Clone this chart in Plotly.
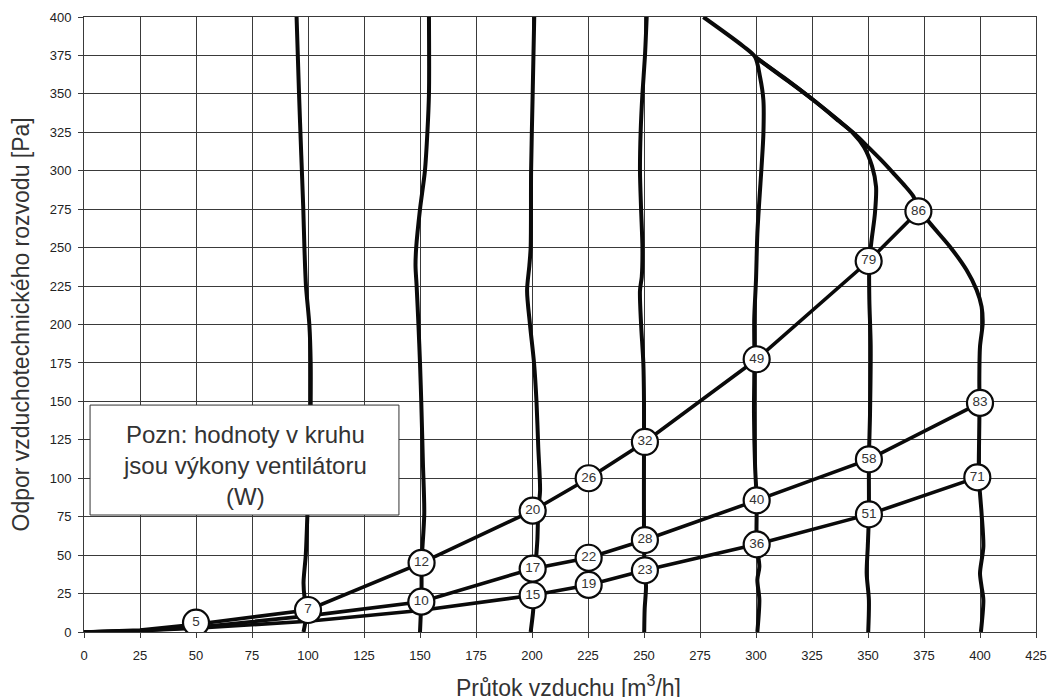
import plotly.graph_objects as go

# ---- fan speed curves (flow x, pressure y) ----
q100_x = [98.0, 99.0, 99.5, 98.5, 98.0, 99.0, 99.7, 100.3, 101.0, 101.2, 101.2, 100.6, 99.1, 98.4, 97.9, 97.0, 96.0, 94.9]
q100_y = [0, 8, 14, 22, 32, 50, 75, 100, 125, 150, 175, 200, 225, 250, 275, 310, 350, 400]

q150_x = [150.0, 150.3, 150.6, 150.7, 150.7, 151.9, 151.3, 150.6, 150.0, 149.3, 148.5, 148.0, 148.3, 150.0, 152.2, 153.3, 154.0, 154.0]
q150_y = [0, 10, 20, 32, 45, 77, 110, 148, 175, 200, 225, 238, 250, 275, 300, 325, 350, 400]

q200_x = [199.4, 200.4, 201.0, 201.5, 202.4, 202.8, 203.6, 202.8, 202.0, 200.9, 199.1, 197.8, 198.8, 199.4, 199.6, 200.3, 201.0]
q200_y = [0, 12, 24, 41, 60, 79, 92, 120, 150, 175, 200, 222, 238, 250, 300, 350, 400]

q250_x = [250.1, 250.3, 250.9, 250.3, 250.0, 250.0, 250.0, 249.7, 248.7, 248.2, 249.0, 249.3, 248.7, 248.2, 248.5, 249.3, 250.4, 251.2]
q250_y = [0, 15, 29.5, 40, 60, 124, 150, 175, 200, 222, 231, 250, 275, 300, 325, 350, 374, 400]

q300_x = [300.6, 301.5, 300.6, 301.5, 300.3, 300.3, 299.6, 299.1, 299.3, 299.2, 300.0, 300.6, 301.5, 302.5, 303.3, 303.3, 301.8, 299.6, 294.3, 276.5]
q300_y = [0, 21, 34, 42.5, 57, 86, 107.5, 142, 177, 203, 229, 259, 281, 303, 324, 346, 361, 374, 381, 400]

q350_x = [299.6, 312.0, 325.6, 337.0, 343.4, 348.2, 351.8, 353.6, 353.1, 351.6, 350.6, 350.6, 351.2, 350.9, 350.4, 350.4, 349.9, 349.4, 350.4, 350.1]
q350_y = [374, 360.8, 346, 332.3, 324.4, 315.5, 303.0, 289.6, 272.3, 254.9, 241, 216, 186, 142, 112, 77, 55.5, 38.2, 20.8, 0]

qmax_x = [299.6, 312.5, 326.0, 337.5, 344.0, 350.0, 355.5, 361.3, 366.0, 370.2, 372.5, 377.7, 386.6, 394.0, 398.5, 400.7, 401.2, 400.0, 399.7, 399.8, 399.6, 399.5, 400.7, 401.5, 400.0, 400.7, 401.5, 400.4]
qmax_y = [374, 360.5, 345.5, 332, 324, 315.5, 307.5, 298.5, 291, 283.5, 276, 265.8, 250.6, 235.4, 222.4, 211.6, 200.8, 185.6, 163.9, 149, 125, 101, 77.2, 55.5, 38.2, 29.5, 20.8, 0]

# ---- duct system curves ----
sys_hi_x = [0, 25, 50, 100, 150.7, 200.3, 225.3, 250.4, 300.3, 350.3, 372.5]
sys_hi_y = [0, 1.2, 5.0, 14.3, 45.0, 78.9, 100.0, 123.6, 177.4, 241.3, 273.6]
sys_mid_x = [0, 25, 50, 100, 150.6, 200.3, 225.3, 250.4, 300.3, 350.4, 400.0]
sys_mid_y = [0, 1.0, 3.0, 10.5, 19.7, 41.2, 48.3, 59.8, 85.6, 112.3, 149.0]
sys_lo_x = [0, 25, 50, 100, 150.0, 200.3, 225.3, 250.4, 300.3, 350.4, 398.8]
sys_lo_y = [0, 0.8, 2.5, 7.0, 14.0, 23.9, 30.6, 40.1, 57.0, 76.5, 100.6]

# ---- fan power labels (W) ----
pw_labels = ["5", "7", "12", "10", "20", "17", "15", "26", "22", "19", "32", "28", "23",
             "49", "40", "36", "79", "58", "51", "86", "83", "71"]
pw_x = [50, 100, 150.7, 150.6, 200.3, 200.3, 200.3, 225.3, 225.3, 225.3, 250.4, 250.4, 250.4,
        300.3, 300.3, 300.3, 350.3, 350.4, 350.4, 372.5, 400.0, 398.8]
pw_y = [6.1, 14.3, 45.0, 19.7, 78.9, 41.2, 23.9, 100.0, 48.3, 30.6, 123.6, 59.8, 40.1,
        177.4, 85.6, 57.0, 241.3, 112.3, 76.5, 273.6, 149.0, 100.6]

x_ticks = list(range(0, 426, 25))
y_ticks = list(range(0, 401, 25))

note_text = "Pozn: hodnoty v kruhu<br>jsou výkony ventilátoru<br>(W)"
x_title = "Průtok vzduchu [m<sup>3</sup>/h]"
y_title = "Odpor vzduchotechnického rozvodu [Pa]"

FONT = "Liberation Sans, Arial, sans-serif"
GRID = "#3a3a3a"

fig = go.Figure()

for xs, ys in [(q100_x, q100_y), (q150_x, q150_y), (q200_x, q200_y), (q250_x, q250_y),
               (q300_x, q300_y), (q350_x, q350_y), (qmax_x, qmax_y)]:
    fig.add_trace(go.Scatter(x=xs, y=ys, mode="lines",
                             line=dict(color="#0a0a0a", width=4, shape="spline", smoothing=0.8),
                             hoverinfo="skip", showlegend=False))

for xs, ys in [(sys_hi_x, sys_hi_y), (sys_mid_x, sys_mid_y), (sys_lo_x, sys_lo_y)]:
    fig.add_trace(go.Scatter(x=xs, y=ys, mode="lines",
                             line=dict(color="#0a0a0a", width=3.6),
                             hoverinfo="skip", showlegend=False))

fig.add_trace(go.Scatter(x=pw_x, y=pw_y, mode="markers+text", text=pw_labels,
                         textposition="middle center",
                         textfont=dict(family=FONT, size=13.5, color="#333333"),
                         marker=dict(size=26, color="white", line=dict(color="#0a0a0a", width=2.2)),
                         hoverinfo="skip", showlegend=False))

fig.add_shape(type="rect", xref="x", yref="y", x0=2.7, x1=140.6, y0=76.1, y1=147.6,
              line=dict(color="#333333", width=1), fillcolor="white", layer="above")

fig.add_annotation(x=71.65, y=108.6, xref="x", yref="y", text=note_text, showarrow=False,
                   font=dict(family=FONT, size=24, color="#333333"), align="center")

fig.add_annotation(x=(568 - 84) / 952, y=-(669 - 632) / 615, xref="paper", yref="paper",
                   text=x_title, showarrow=False, xanchor="center", yanchor="top",
                   font=dict(family=FONT, size=23, color="#333333"))

fig.add_annotation(x=(20 - 84) / 952, y=0.5, xref="paper", yref="paper",
                   text=y_title, showarrow=False, textangle=-90, xanchor="center", yanchor="middle",
                   font=dict(family=FONT, size=23, color="#333333"))

fig.update_layout(
    width=1050, height=697,
    margin=dict(l=84, r=14, t=17, b=65),
    paper_bgcolor="white", plot_bgcolor="white",
    showlegend=False,
    xaxis=dict(range=[0, 425], tickvals=x_ticks, ticktext=[str(v) for v in x_ticks],
               showgrid=True, gridcolor=GRID, gridwidth=1, zeroline=False,
               ticks="outside", ticklen=5, tickcolor=GRID, tickwidth=1,
               showline=True, mirror=True, linecolor=GRID, linewidth=1, automargin=False,
               tickfont=dict(family=FONT, size=13, color="#222222"), ticklabelstandoff=6),
    yaxis=dict(range=[0, 400], tickvals=y_ticks, ticktext=[str(v) for v in y_ticks],
               showgrid=True, gridcolor=GRID, gridwidth=1, zeroline=False,
               ticks="outside", ticklen=5, tickcolor=GRID, tickwidth=1,
               showline=True, mirror=True, linecolor=GRID, linewidth=1, automargin=False,
               tickfont=dict(family=FONT, size=13, color="#222222"), ticklabelstandoff=4),
)

fig.write_html("out.html", config={"displayModeBar": False},
               post_script="document.body.style.margin='0px';document.body.style.overflow='hidden';")
